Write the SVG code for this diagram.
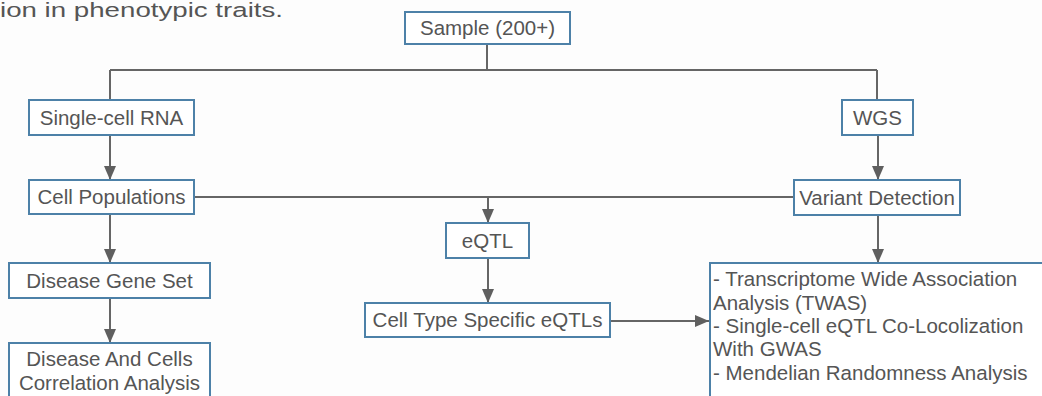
<svg xmlns="http://www.w3.org/2000/svg" width="1042" height="396" viewBox="0 0 1042 396">
  <style>
    .box { fill: #ffffff; stroke: #4d81a8; stroke-width: 2; }
    .lbl { font-family: "Liberation Sans", Arial, sans-serif; font-size: 20.5px; fill: #555555; }
    .mid { text-anchor: middle; }
    .wire { fill: none; stroke: #666666; stroke-width: 2; }
  </style>
  <defs>
    <marker id="arrow" markerUnits="userSpaceOnUse" markerWidth="14" markerHeight="12" refX="14" refY="6" orient="auto">
      <path d="M0,0 L14,6 L0,12 z" fill="#5f5f5f"/>
    </marker>
  </defs>

  <rect x="0" y="0" width="1042" height="396" fill="#fdfdfd"/>

  <!-- caption fragment at top left -->
  <text class="lbl" x="0" y="17" font-size="23" textLength="283" lengthAdjust="spacingAndGlyphs">ion in phenotypic traits.</text>

  <!-- connectors -->
  <g id="connectors">
    <path class="wire" d="M487,44 V70 M110,70 H877 M110,70 V100 M877,70 V100"/>
    <path class="wire" d="M110,135 V180" marker-end="url(#arrow)"/>
    <path class="wire" d="M110,214 V263" marker-end="url(#arrow)"/>
    <path class="wire" d="M110,298 V343" marker-end="url(#arrow)"/>
    <path class="wire" d="M194,197 H794"/>
    <path class="wire" d="M488,197 V223" marker-end="url(#arrow)"/>
    <path class="wire" d="M488,258 V303" marker-end="url(#arrow)"/>
    <path class="wire" d="M610,321 H709" marker-end="url(#arrow)"/>
    <path class="wire" d="M878,135 V180" marker-end="url(#arrow)"/>
    <path class="wire" d="M878,215 V263" marker-end="url(#arrow)"/>
  </g>

  <g id="sample">
    <rect class="box" x="405" y="12" width="165" height="32"/>
    <text class="lbl mid" x="487.5" y="35">Sample (200+)</text>
  </g>

  <g id="single-cell-rna">
    <rect class="box" x="29" y="100" width="165" height="35"/>
    <text class="lbl mid" x="111.5" y="124.5">Single-cell RNA</text>
  </g>

  <g id="cell-populations">
    <rect class="box" x="29" y="180" width="165" height="34"/>
    <text class="lbl mid" x="111.5" y="204">Cell Populations</text>
  </g>

  <g id="disease-gene-set">
    <rect class="box" x="9" y="263" width="201" height="35"/>
    <text class="lbl mid" x="109.5" y="287.5">Disease Gene Set</text>
  </g>

  <g id="disease-cells-correlation">
    <rect class="box" x="9" y="343" width="201" height="70"/>
    <text class="lbl mid" x="109.5" y="366">Disease And Cells</text>
    <text class="lbl mid" x="109.5" y="390">Correlation Analysis</text>
  </g>

  <g id="eqtl">
    <rect class="box" x="446" y="223" width="83" height="35"/>
    <text class="lbl mid" x="487.5" y="247.5">eQTL</text>
  </g>

  <g id="cell-type-eqtls">
    <rect class="box" x="365" y="303" width="245" height="34"/>
    <text class="lbl mid" x="487.5" y="327">Cell Type Specific eQTLs</text>
  </g>

  <g id="wgs">
    <rect class="box" x="842" y="100" width="71" height="35"/>
    <text class="lbl mid" x="877.5" y="124.5">WGS</text>
  </g>

  <g id="variant-detection">
    <rect class="box" x="794" y="180" width="166" height="35"/>
    <text class="lbl mid" x="877" y="204.5">Variant Detection</text>
  </g>

  <g id="downstream-analyses">
    <rect class="box" x="710" y="263" width="350" height="150"/>
    <text class="lbl" x="713" y="286">- Transcriptome Wide Association</text>
    <text class="lbl" x="713" y="310">Analysis (TWAS)</text>
    <text class="lbl" x="713" y="333">- Single-cell eQTL Co-Locolization</text>
    <text class="lbl" x="713" y="356">With GWAS</text>
    <text class="lbl" x="713" y="380">- Mendelian Randomness Analysis</text>
  </g>
</svg>
